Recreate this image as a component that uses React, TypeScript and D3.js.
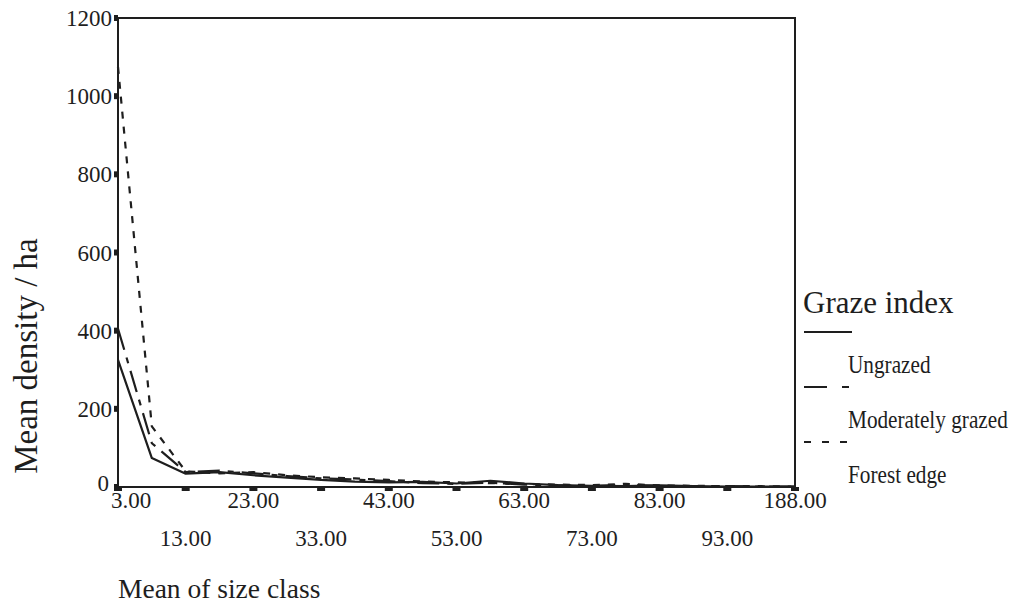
import React from "react";
import * as d3 from "d3";

// Size-class midpoints (categorical axis); every other one is labelled
const sizeClasses = [
  "3.00", "8.00", "13.00", "18.00", "23.00", "28.00", "33.00", "38.00", "43.00", "48.00",
  "53.00", "58.00", "63.00", "68.00", "73.00", "78.00", "83.00", "88.00", "93.00", "98.00", "188.00",
];

// Mean density per hectare for each graze index
const ungrazed = [325, 74, 34, 38, 30, 24, 18, 14, 12, 13, 9, 16, 9, 5, 3, 2, 4, 2, 1, 1, 1];
const moderatelyGrazed = [405, 112, 38, 42, 35, 28, 22, 19, 15, 10, 8, 11, 6, 4, 3, 6, 3, 2, 2, 1, 1];
const forestEdge = [1075, 155, 40, 35, 38, 30, 25, 22, 18, 14, 12, 10, 8, 6, 5, 8, 4, 3, 2, 2, 1];

const yTicks = [0, 200, 400, 600, 800, 1000, 1200];

const seriesNames = ["Ungrazed", "Moderately grazed", "Forest edge"];
const seriesDash = ["", "22,8,6,8", "7,8"];
const legendDash = ["", "23,15,7,15", "7,11"];

const W = 1018;
const H = 615;
const plot = { left: 118, right: 795, top: 18, bottom: 487 };
const ink = "#1e1e1e";
const serif = "'Liberation Serif', 'Times New Roman', serif";

export default function App() {
  const x = d3
    .scalePoint<string>()
    .domain(sizeClasses)
    .range([plot.left, plot.right]);
  const y = d3.scaleLinear().domain([0, 1200]).range([plot.bottom, plot.top]);

  const series = [ungrazed, moderatelyGrazed, forestEdge];
  const line = d3
    .line<number>()
    .x((_, i) => x(sizeClasses[i]) as number)
    .y((v) => y(v));

  return (
    <svg
      width={W}
      height={H}
      viewBox={`0 0 ${W} ${H}`}
      style={{ position: "absolute", left: 0, top: 0, background: "#fff" }}
    >
      <rect x={0} y={0} width={W} height={H} fill="#fff" />

      {/* data lines */}
      {series.map((vals, k) => (
        <path
          key={seriesNames[k]}
          d={line(vals) || ""}
          fill="none"
          stroke={ink}
          strokeWidth={2.2}
          strokeDasharray={seriesDash[k] || undefined}
          strokeLinejoin="round"
        />
      ))}

      {/* frame */}
      <rect
        x={plot.left}
        y={plot.top}
        width={plot.right - plot.left}
        height={plot.bottom - plot.top}
        fill="none"
        stroke={ink}
        strokeWidth={2}
      />

      {/* y ticks and labels */}
      {yTicks.map((t) => (
        <g key={t}>
          <rect x={plot.left - 4} y={y(t) - 3} width={4} height={6} fill={ink} />
          <text
            x={t === 0 ? plot.left - 9 : plot.left - 6}
            y={t === 0 ? y(t) - 4 : y(t)}
            dy="0.35em"
            textAnchor="end"
            fontFamily={serif}
            fontSize={23}
            fill={ink}
          >
            {t}
          </text>
        </g>
      ))}

      {/* x ticks and staggered labels */}
      {sizeClasses.map((c, i) => {
        if (i % 2 !== 0) return null;
        const cx = x(c) as number;
        const row = (i / 2) % 2;
        const first = i === 0;
        return (
          <g key={c}>
            <rect x={cx - 4} y={plot.bottom} width={8} height={4} fill={ink} />
            <text
              x={first ? cx - 7 : cx}
              y={row === 0 ? 508 : 546}
              textAnchor={first ? "start" : "middle"}
              fontFamily={serif}
              fontSize={23}
              fill={ink}
            >
              {c}
            </text>
          </g>
        );
      })}

      {/* axis titles */}
      <text
        transform="translate(37,356) rotate(-90)"
        textAnchor="middle"
        fontFamily={serif}
        fontSize={33}
        fill={ink}
      >
        Mean density / ha
      </text>
      <text x={118} y={598} fontFamily={serif} fontSize={27.5} fill={ink}>
        Mean of size class
      </text>

      {/* legend */}
      <text x={803} y={313} fontFamily={serif} fontSize={31} fill={ink}>
        Graze index
      </text>
      {seriesNames.map((name, k) => {
        const ly = 332 + k * 55;
        return (
          <g key={name}>
            <line
              x1={804}
              x2={852}
              y1={ly}
              y2={ly}
              stroke={ink}
              strokeWidth={2}
              strokeDasharray={legendDash[k] || undefined}
            />
            <text
              transform={`translate(848,${ly + 41}) scale(0.85,1)`}
              fontFamily={serif}
              fontSize={25}
              fill={ink}
            >
              {name}
            </text>
          </g>
        );
      })}
    </svg>
  );
}
